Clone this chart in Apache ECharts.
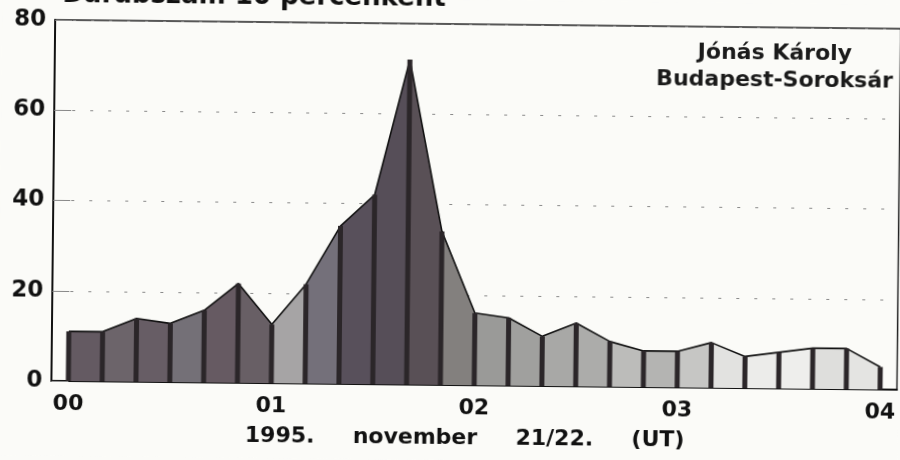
<!DOCTYPE html>
<html>
<head>
<meta charset="utf-8">
<script src="https://cdn.jsdelivr.net/npm/echarts@6/dist/echarts.min.js"></script>
<style>
  html, body { margin: 0; padding: 0; background: #fbfbf8; overflow: hidden; }
  /* the scanned page is slightly tilted */
  #chart { width: 900px; height: 460px; transform: rotate(0.6deg); }
</style>
</head>
<body>
<div id="chart"></div>
<script>
// 10 minute bins, 1995 november 21/22 (UT)
var times = ['00:00', '00:10', '00:20', '00:30', '00:40', '00:50',
  '01:00', '01:10', '01:20', '01:30', '01:40', '01:50',
  '02:00', '02:10', '02:20', '02:30', '02:40', '02:50',
  '03:00', '03:10', '03:20', '03:30', '03:40', '03:50', '04:00'];
var counts = [11, 11, 14, 13, 16, 22, 13, 22, 35, 42, 72, 34,
  16, 15, 11, 14, 10, 8, 8, 10, 7, 8, 9, 9, 5];
var yTicks = [0, 20, 40, 60, 80];
var observer = ['Jónás Károly', 'Budapest-Soroksár'];
var titleText = 'Darabszám 10 percenként';
var axisTitle = '1995.     november     21/22.     (UT)';

// shading of each strip between two points (scan look: dark left, pale right)
var shades = ['#645a62', '#6c646a', '#675d65', '#747077', '#665a62', '#685f65',
  '#a6a4a5', '#74707a', '#58505b', '#564e58', '#595056', '#83807e',
  '#9a9a98', '#a0a09e', '#a8a8a6', '#acacaa', '#bcbcba', '#b4b4b2',
  '#c6c6c4', '#e2e2e0', '#ececea', '#eeeeec', '#dededc', '#e4e4e2'];
var stops = [];
shades.forEach(function (c, i) {
  stops.push({ offset: i / shades.length, color: c });
  stops.push({ offset: (i + 1) / shades.length, color: c });
});

var boldFont = 'DejaVu Sans';
var chart = echarts.init(document.getElementById('chart'));
chart.setOption({
  backgroundColor: '#fbfbf8',
  animation: false,
  grid: {
    left: 53, right: 1, top: 24, bottom: 75,
    show: true, borderColor: '#222', borderWidth: 1.5
  },
  graphic: [
    {
      type: 'text', x: 60, y: -14,
      style: { text: titleText, font: 'bold 26px "DejaVu Sans"', fill: '#111' }
    },
    {
      type: 'text', x: 773, y: 37,
      style: {
        text: observer.join('\n'), font: 'bold 22px "DejaVu Sans"', fill: '#1a1a1a',
        align: 'center', lineHeight: 27
      }
    }
  ],
  xAxis: {
    type: 'category',
    data: times,
    boundaryGap: true,
    axisLine: { lineStyle: { color: '#111', width: 2 } },
    axisTick: { show: false },
    axisLabel: {
      interval: 5,
      margin: 12,
      color: '#111',
      fontFamily: boldFont,
      fontWeight: 'bold',
      fontSize: 22,
      formatter: function (v) { return v.slice(0, 2); }
    },
    name: axisTitle,
    nameLocation: 'middle',
    nameGap: 42,
    nameTextStyle: {
      color: '#111', fontFamily: boldFont, fontWeight: 'bold', fontSize: 22,
      padding: [0, 18, 0, 0]
    }
  },
  yAxis: {
    type: 'value',
    min: yTicks[0],
    max: yTicks[yTicks.length - 1],
    interval: 20,
    axisLine: { show: true, lineStyle: { color: '#111', width: 2 } },
    axisTick: { show: true, inside: true, length: 17, lineStyle: { color: '#888', width: 1 } },
    axisLabel: {
      margin: 9,
      color: '#111',
      fontFamily: boldFont,
      fontWeight: 'bold',
      fontSize: 23
    },
    splitLine: { show: true, lineStyle: { color: '#8a8a8a', width: 1, type: [3, 15] } }
  },
  series: [
    {
      type: 'line',
      data: counts,
      symbol: 'none',
      z: 2,
      lineStyle: { color: '#111', width: 1.6 },
      areaStyle: {
        opacity: 1,
        color: { type: 'linear', x: 0, y: 0, x2: 1, y2: 0, colorStops: stops }
      }
    },
    {
      type: 'bar',
      data: counts,
      barWidth: 5,
      z: 3,
      itemStyle: { color: '#2b2629' }
    }
  ]
});
</script>
</body>
</html>
